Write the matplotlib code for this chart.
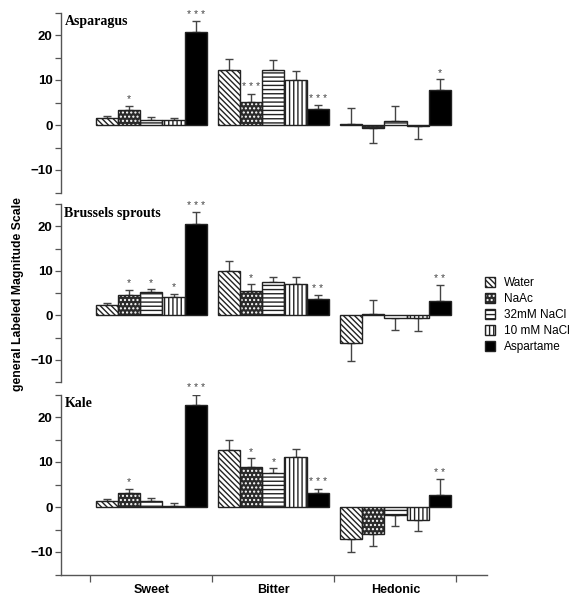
import matplotlib
matplotlib.use("Agg")
import matplotlib.pyplot as plt
import numpy as np
from matplotlib.patches import Patch

plt.rcParams['hatch.linewidth'] = 1.0
plt.rcParams['font.family'] = ['Liberation Sans', 'DejaVu Sans']

panels = ["Asparagus", "Brussels sprouts", "Kale"]
categories = ["Sweet", "Bitter", "Hedonic"]
series = ["Water", "NaAc", "32mM NaCl", "10 mM NaCl", "Aspartame"]

# values[panel][series] -> per category (Sweet, Bitter, Hedonic)
asparagus_vals = [[1.5, 12.2, 0.3], [3.3, 5.2, -0.7], [1.1, 12.3, 0.8], [1.2, 10.0, -0.3], [20.6, 3.5, 7.7]]
asparagus_err = [[0.5, 2.4, 3.4], [1.0, 1.8, 3.3], [0.6, 2.1, 3.4], [0.3, 2.0, 2.8], [2.5, 0.9, 2.5]]
asparagus_sig = [["", "", ""], ["*", "***", ""], ["", "", ""], ["", "", ""], ["***", "***", "*"]]

brussels_vals = [[2.2, 9.9, -6.2], [4.6, 5.5, 0.2], [5.2, 7.4, -0.7], [4.0, 7.1, -0.6], [20.5, 3.7, 3.1]]
brussels_err = [[0.6, 2.2, 4.1], [1.1, 1.5, 3.2], [0.6, 1.1, 2.6], [0.8, 1.5, 3.0], [2.6, 0.8, 3.7]]
brussels_sig = [["", "", ""], ["*", "*", ""], ["*", "", ""], ["*", "", ""], ["***", "**", "**"]]

kale_vals = [[1.3, 12.6, -7.0], [3.2, 8.9, -5.9], [1.4, 7.5, -1.7], [0.2, 11.2, -2.8], [22.7, 3.2, 2.6]]
kale_err = [[0.5, 2.3, 3.0], [0.9, 2.0, 2.7], [0.7, 1.1, 2.5], [0.8, 1.8, 2.6], [2.3, 0.9, 3.6]]
kale_sig = [["", "", ""], ["*", "*", ""], ["", "*", ""], ["", "", ""], ["***", "***", "**"]]

all_vals = [asparagus_vals, brussels_vals, kale_vals]
all_err = [asparagus_err, brussels_err, kale_err]
all_sig = [asparagus_sig, brussels_sig, kale_sig]

# style per series: facecolor, hatch colour, hatch
hatches = ["\\\\\\\\\\\\", "....", "----", "||||", None]
faces = ["white", "#2a2a2a", "white", "white", "black"]
hatch_cols = ["#222222", "white", "#222222", "#222222", "black"]

W, H = 579, 600
fig = plt.figure(figsize=(W / 100, H / 100), dpi=100)

def ax_rect(top_px, bot_px):
    left = 61 / W
    right = 487 / W
    return [left, 1 - bot_px / H, right - left, (bot_px - top_px) / H]

rects = [ax_rect(12.5, 192.5), ax_rect(204, 382), ax_rect(394.5, 574.5)]
spine_col = "#555555"
bw = 0.182
x = np.arange(len(categories)) + 0.5

for p, name in enumerate(panels):
    ax = fig.add_axes(rects[p])
    vals, errs, sigs = all_vals[p], all_err[p], all_sig[p]
    for j in range(len(series)):
        pos = x + (j - 2) * bw
        v = np.array(vals[j])
        e = np.array(errs[j])
        ax.bar(pos, v, width=bw, color=faces[j], edgecolor=hatch_cols[j], linewidth=0,
               hatch=hatches[j], zorder=2)
        ax.bar(pos, v, width=bw, color="none", edgecolor="#222222", linewidth=1.0,
               zorder=3)
        lower = np.where(v < 0, e, 0)
        upper = np.where(v >= 0, e, 0)
        ax.errorbar(pos, v, yerr=[lower, upper], fmt="none", ecolor="#444444",
                    elinewidth=1.0, capsize=2.8, capthick=1.0, zorder=1)
        for k in range(len(categories)):
            s = sigs[j][k]
            if s:
                ytop = v[k] + e[k] if v[k] >= 0 else 0
                ax.text(pos[k], ytop + 0.3, " ".join(s), ha="center", va="bottom",
                        fontsize=7.5, color="#444444")
    ax.set_xlim(-0.24, 3.25)
    ax.set_ylim(-15, 25)
    ax.set_yticks([-10, 0, 10, 20])
    ax.set_yticks(np.arange(-15, 26, 5), minor=True)
    ax.tick_params(axis="y", which="both", length=4, width=0.9, color=spine_col,
                   labelsize=9.5, pad=2)
    for lab in ax.get_yticklabels():
        lab.set_fontweight("bold")
    for s in ["top", "right"]:
        ax.spines[s].set_visible(False)
    ax.spines["left"].set_color(spine_col)
    ax.spines["left"].set_linewidth(1.0)
    ax.text(0.008, 0.985, name, transform=ax.transAxes, ha="left", va="top",
            fontsize=10, fontweight="bold", family="Liberation Serif")
    ax.set_facecolor("none")
    if p < 2:
        ax.spines["bottom"].set_visible(False)
        ax.set_xticks([])
    else:
        ax.spines["bottom"].set_color(spine_col)
        ax.spines["bottom"].set_linewidth(1.0)
        ax.set_xticks([0, 1, 2, 3])
        ax.set_xticklabels([])
        ax.set_xticks(x, minor=True)
        ax.set_xticklabels(categories, minor=True, fontweight="bold", fontsize=9)
        ax.tick_params(axis="x", which="major", length=5, width=0.9, color=spine_col)
        ax.tick_params(axis="x", which="minor", length=0, pad=7)

fig.text(18 / W, 1 - 294 / H, "general Labeled Magnitude Scale", rotation=90,
         ha="center", va="center", fontsize=8.8, fontweight="bold")

handles = [(Patch(facecolor=faces[j], edgecolor=hatch_cols[j], hatch=hatches[j], linewidth=0),
            Patch(facecolor="none", edgecolor="#222222", linewidth=1.0))
           for j in range(len(series))]
fig.legend(handles=handles, labels=series, loc="upper left",
           bbox_to_anchor=(480 / W, 1 - 272 / H),
           frameon=False, fontsize=8.5, handlelength=0.9, handleheight=0.9,
           handletextpad=0.7, labelspacing=0.35, borderaxespad=0)

fig.savefig("out.png", dpi=100)
